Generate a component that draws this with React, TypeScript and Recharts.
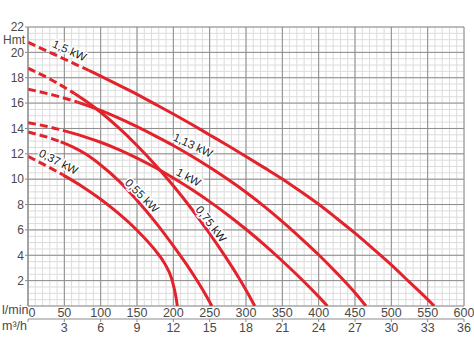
import React from "react";
import { ComposedChart, Line, Scatter, XAxis, YAxis, CartesianGrid } from "recharts";

// Axes
const Q_TICKS = [0, 50, 100, 150, 200, 250, 300, 350, 400, 450, 500, 550, 600];
const M3_TICKS = [0, 3, 6, 9, 12, 15, 18, 21, 24, 27, 30, 33, 36];
const H_TICKS = [2, 4, 6, 8, 10, 12, 14, 16, 18, 20, 22];
const H_MAJOR = [0, ...H_TICKS];
const Q_MINOR = Array.from({ length: 61 }, (_, i) => i * 10);
const H_MINOR = Array.from({ length: 45 }, (_, i) => i * 0.5);

// Curves [l/min, Hmt] : dashed start + solid part
const KW150_DASH = [[0, 20.8], [42, 19.68], [84, 18.57]];
const KW150 = [[84, 18.57], [100, 18.12], [125, 17.41], [150, 16.69], [175, 15.92], [200, 15.14], [225, 14.33], [250, 13.49], [275, 12.65], [300, 11.79], [325, 10.91], [350, 10.02], [375, 9.04], [400, 8.02], [425, 6.9], [450, 5.74], [475, 4.51], [500, 3.24], [525, 1.88], [545, 0.8], [559, 0]];

const KW113_DASH = [[0, 17.1], [35, 16.63], [68, 16.08]];
const KW113 = [[68, 16.08], [100, 15.42], [125, 14.81], [150, 14.14], [175, 13.42], [200, 12.66], [225, 11.83], [250, 10.94], [275, 9.99], [300, 8.97], [325, 7.86], [350, 6.66], [375, 5.38], [400, 4.04], [425, 2.59], [450, 1.04], [465, 0]];

const KW100_DASH = [[0, 14.45], [25, 14.18], [48, 13.85]];
const KW100 = [[48, 13.85], [75, 13.4], [100, 12.91], [125, 12.33], [150, 11.66], [175, 10.92], [200, 10.1], [225, 9.21], [250, 8.23], [275, 7.18], [300, 6.05], [325, 4.84], [350, 3.55], [375, 2.19], [400, 0.74], [412, 0]];

const KW075_DASH = [[0, 18.75], [32, 17.84], [64, 16.76]];
const KW075 = [[64, 16.76], [80, 16.14], [100, 15.28], [125, 14.04], [150, 12.66], [175, 11.14], [200, 9.48], [225, 7.67], [250, 5.71], [270, 4.03], [290, 2.23], [305, 0.75], [312, 0]];

const KW055_DASH = [[0, 13.72], [25, 13.34], [45, 12.95]];
const KW055 = [[45, 12.95], [60, 12.59], [80, 11.96], [100, 11.12], [125, 9.87], [150, 8.34], [175, 6.63], [200, 4.74], [220, 3.12], [235, 1.79], [245, 0.83], [253, 0]];

const KW037_DASH = [[0, 11.8], [24, 11.09], [48, 10.34]];
const KW037 = [[48, 10.34], [75, 9.41], [100, 8.42], [125, 7.28], [150, 5.97], [175, 4.4], [188, 3.36], [198, 2.11], [203, 0.9], [205.5, 0]];

const CURVES = [
  [KW150_DASH, KW150],
  [KW113_DASH, KW113],
  [KW100_DASH, KW100],
  [KW075_DASH, KW075],
  [KW055_DASH, KW055],
  [KW037_DASH, KW037],
];

// curve labels (data coordinates)
const LABEL_TEXT = ["1,5 kW", "1,13 kW", "1 kW", "0,75 kW", "0,55 kW", "0,37 kW"];
const LABEL_Q = [57, 227, 221, 252, 157, 42];
const LABEL_H = [20.15, 12.67, 10.15, 6.47, 8.7, 11.38];
const LABEL_ANGLE = [24, 25, 29, 52, 45, 27];

const toPts = (arr: number[][]) => arr.map(([q, h]) => ({ q, h }));
const labels = LABEL_TEXT.map((text, i) => ({ q: LABEL_Q[i], h: LABEL_H[i], text, angle: LABEL_ANGLE[i] }));
// invisible series so the m³/h axis gets drawn
const m3Pts = M3_TICKS.map((m) => ({ m, h: 0 }));

const RED = "#e3222b";
const FONT = "'Liberation Sans', Arial, sans-serif";
const TXT = "#4a4a4a";

const QTick = ({ x, y, payload }: any) => (
  <text x={payload.value === 0 ? x + 4 : x} y={y + 11} textAnchor="middle" fontSize={12.5} fill={TXT} fontFamily={FONT}>
    {payload.value}
  </text>
);

const M3Tick = ({ x, y, payload }: any) =>
  payload.value === 0 ? null : (
    <text x={x} y={y + 10} textAnchor="middle" fontSize={12.5} fill={TXT} fontFamily={FONT}>
      {payload.value}
    </text>
  );

const LabelShape = ({ cx, cy, payload }: any) => (
  <g transform={`translate(${cx},${cy}) rotate(${payload.angle})`}>
    <text
      textAnchor="middle"
      dominantBaseline="central"
      fontSize={11.5}
      fill="#1a1a1a"
      fontFamily={FONT}
      stroke="#fff"
      strokeWidth={3}
      paintOrder="stroke"
    >
      {payload.text}
    </text>
  </g>
);

export default function App() {
  return (
    <div style={{ position: "relative", width: 474, height: 355, fontFamily: FONT }}>
      <style>{"body{margin:0}"}</style>
      <ComposedChart width={474} height={355} margin={{ top: 27, right: 10, bottom: 16, left: 0 }}>
        <CartesianGrid verticalValues={Q_MINOR} horizontalValues={H_MINOR} stroke="#dcdcdc" />
        <CartesianGrid verticalValues={Q_TICKS} horizontalValues={H_MAJOR} stroke="#8c8c8c" />
        <XAxis
          dataKey="q"
          type="number"
          domain={[0, 600]}
          ticks={Q_TICKS}
          allowDataOverflow
          axisLine={false}
          tickLine={false}
          tickSize={0}
          tickMargin={0}
          height={13}
          tick={<QTick />}
          interval={0}
        />
        <XAxis
          xAxisId="m3"
          dataKey="m"
          type="number"
          domain={[0, 36]}
          ticks={M3_TICKS}
          allowDataOverflow
          axisLine={{ stroke: "#8c8c8c" }}
          tickLine={{ stroke: "#8c8c8c" }}
          tickSize={3}
          tickMargin={0}
          height={20}
          tick={<M3Tick />}
          interval={0}
        />
        <YAxis
          dataKey="h"
          type="number"
          domain={[0, 22]}
          ticks={H_TICKS}
          allowDataOverflow
          width={28}
          axisLine={{ stroke: "#8c8c8c" }}
          tickLine={{ stroke: "#8c8c8c" }}
          tickSize={3}
          tickMargin={1}
          interval={0}
          tick={{ fontSize: 12, fill: TXT, fontFamily: FONT }}
        />
        <Line
          xAxisId="m3"
          data={m3Pts}
          dataKey="h"
          stroke="none"
          strokeWidth={0}
          dot={false}
          activeDot={false}
          isAnimationActive={false}
        />
        {CURVES.map(([dash, solid], i) => [
          <Line
            key={`d${i}`}
            data={toPts(dash)}
            dataKey="h"
            type="monotone"
            stroke={RED}
            strokeWidth={3}
            strokeDasharray="8 4"
            dot={false}
            activeDot={false}
            isAnimationActive={false}
          />,
          <Line
            key={`s${i}`}
            data={toPts(solid)}
            dataKey="h"
            type="monotone"
            stroke={RED}
            strokeWidth={3}
            dot={false}
            activeDot={false}
            isAnimationActive={false}
          />,
        ])}
        <Scatter data={labels} dataKey="h" shape={<LabelShape />} isAnimationActive={false} />
      </ComposedChart>
      <span style={{ position: "absolute", left: 3, top: 34, fontSize: 12, lineHeight: "12px", color: TXT }}>Hmt</span>
      <span style={{ position: "absolute", left: 2, top: 304, fontSize: 12.5, lineHeight: "13px", color: TXT }}>l/min</span>
      <span style={{ position: "absolute", left: 2, top: 320, fontSize: 12.5, lineHeight: "13px", color: TXT }}>m³/h</span>
    </div>
  );
}
